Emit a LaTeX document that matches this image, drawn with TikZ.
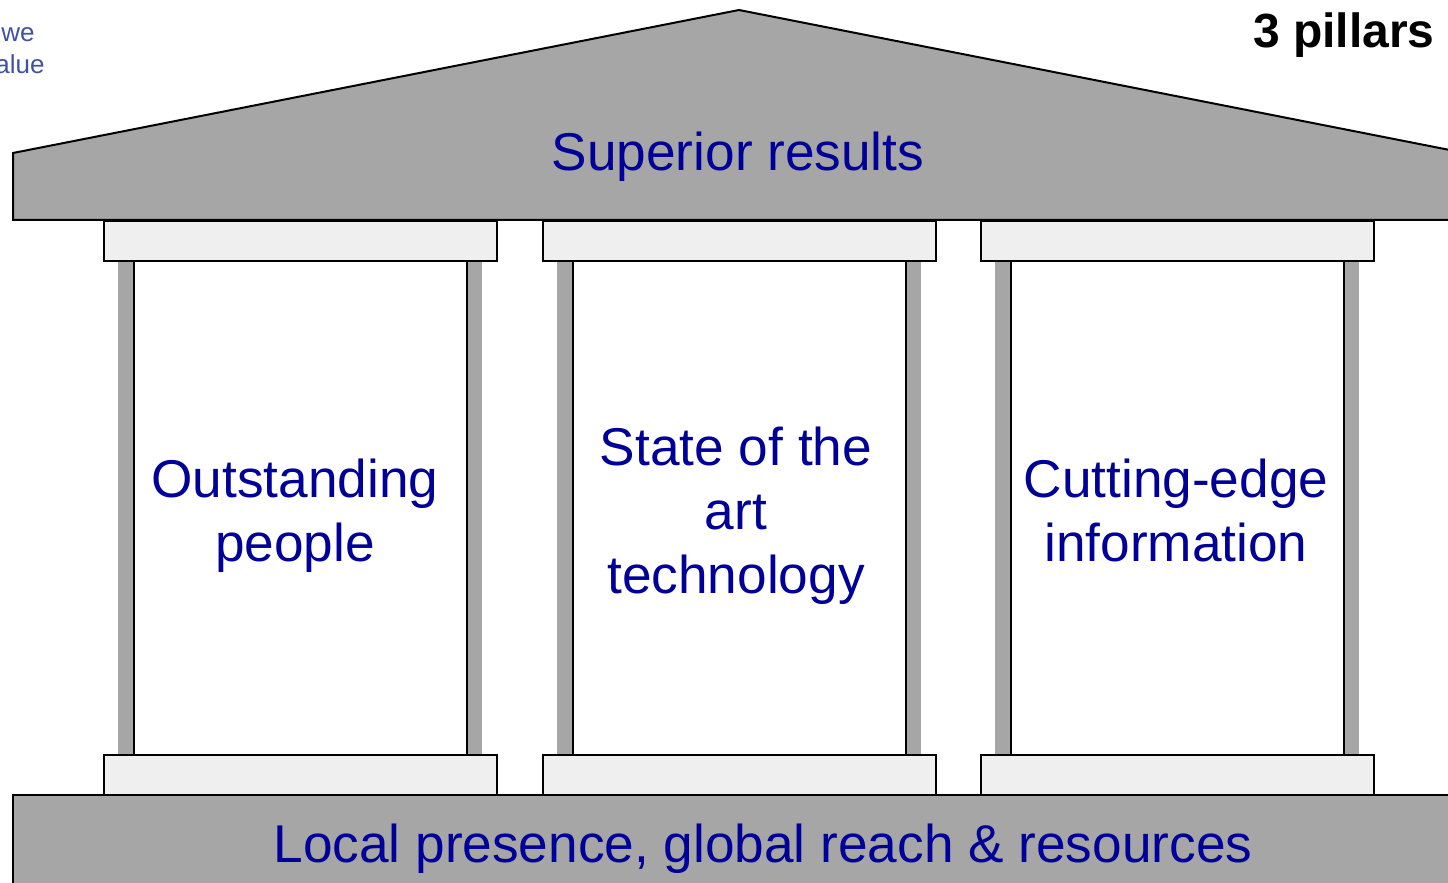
\documentclass[tikz,border=0pt]{standalone}
\usepackage{fontspec}
\setmainfont{Liberation Sans}
\definecolor{stonegray}{RGB}{166,166,166}
\definecolor{capgray}{RGB}{239,239,239}
\definecolor{navy}{RGB}{0,0,153}
\definecolor{softblue}{RGB}{64,80,170}
\tikzset{
  stone/.style={fill=stonegray, draw=black, line width=1pt},
  capital/.style={fill=capgray, draw=black, line width=1pt},
  bigtext/.style={text=navy, font=\fontsize{26.6}{32}\selectfont, inner sep=0pt},
  smalltext/.style={text=softblue, font=\fontsize{13}{16}\selectfont, inner sep=0pt, anchor=base east},
}

\begin{document}
\begin{tikzpicture}[x=0.5pt, y=-0.5pt]
  \useasboundingbox (0,0) rectangle (1448,883);
  % Coordinates
  \coordinate (roofL) at (13,153);
  \coordinate (apex) at (739,10);
  \coordinate (roofR) at (1465,153);
  \coordinate (baseL) at (13,795);
  \coordinate (baseR) at (1465,795);
  % Roof and foundation
  \draw[stone] (13,220) -- (roofL) -- (apex) -- (roofR) -- (1465,220) -- cycle;
  \draw[stone] (13,900) -- (baseL) -- (baseR) -- (1465,900);
  % Pillars
  \foreach \x in {104,543,981}{
    \fill[stonegray] (\x+14,261) rectangle (\x+378,755);
    \draw[fill=white, line width=1pt] (\x+30,250) rectangle (\x+363,766);
    \draw[capital] (\x,221) rectangle (\x+393,261);
    \draw[capital] (\x,755) rectangle (\x+393,795);
  }
  % Labels
  \node[bigtext, anchor=base] (results) at (738,171) {Superior results};
  \node[bigtext, align=center] (people) at (295,516) {Outstanding\\people};
  \node[bigtext, align=center] (tech) at (736,516) {State of the\\art\\technology};
  \node[bigtext, align=center] (info) at (1176,510) {Cutting-edge\\information};
  \node[bigtext, anchor=base] (reach) at (763,862) {Local presence, global reach \& resources};
  \node[font=\bfseries\fontsize{24}{28}\selectfont, anchor=base east, inner sep=0pt] (title) at (1435,48) {3 pillars};
  \node[smalltext] (we) at (35,42) {we};
  \node[smalltext] (value) at (45,74) {value};
\end{tikzpicture}
\end{document}
